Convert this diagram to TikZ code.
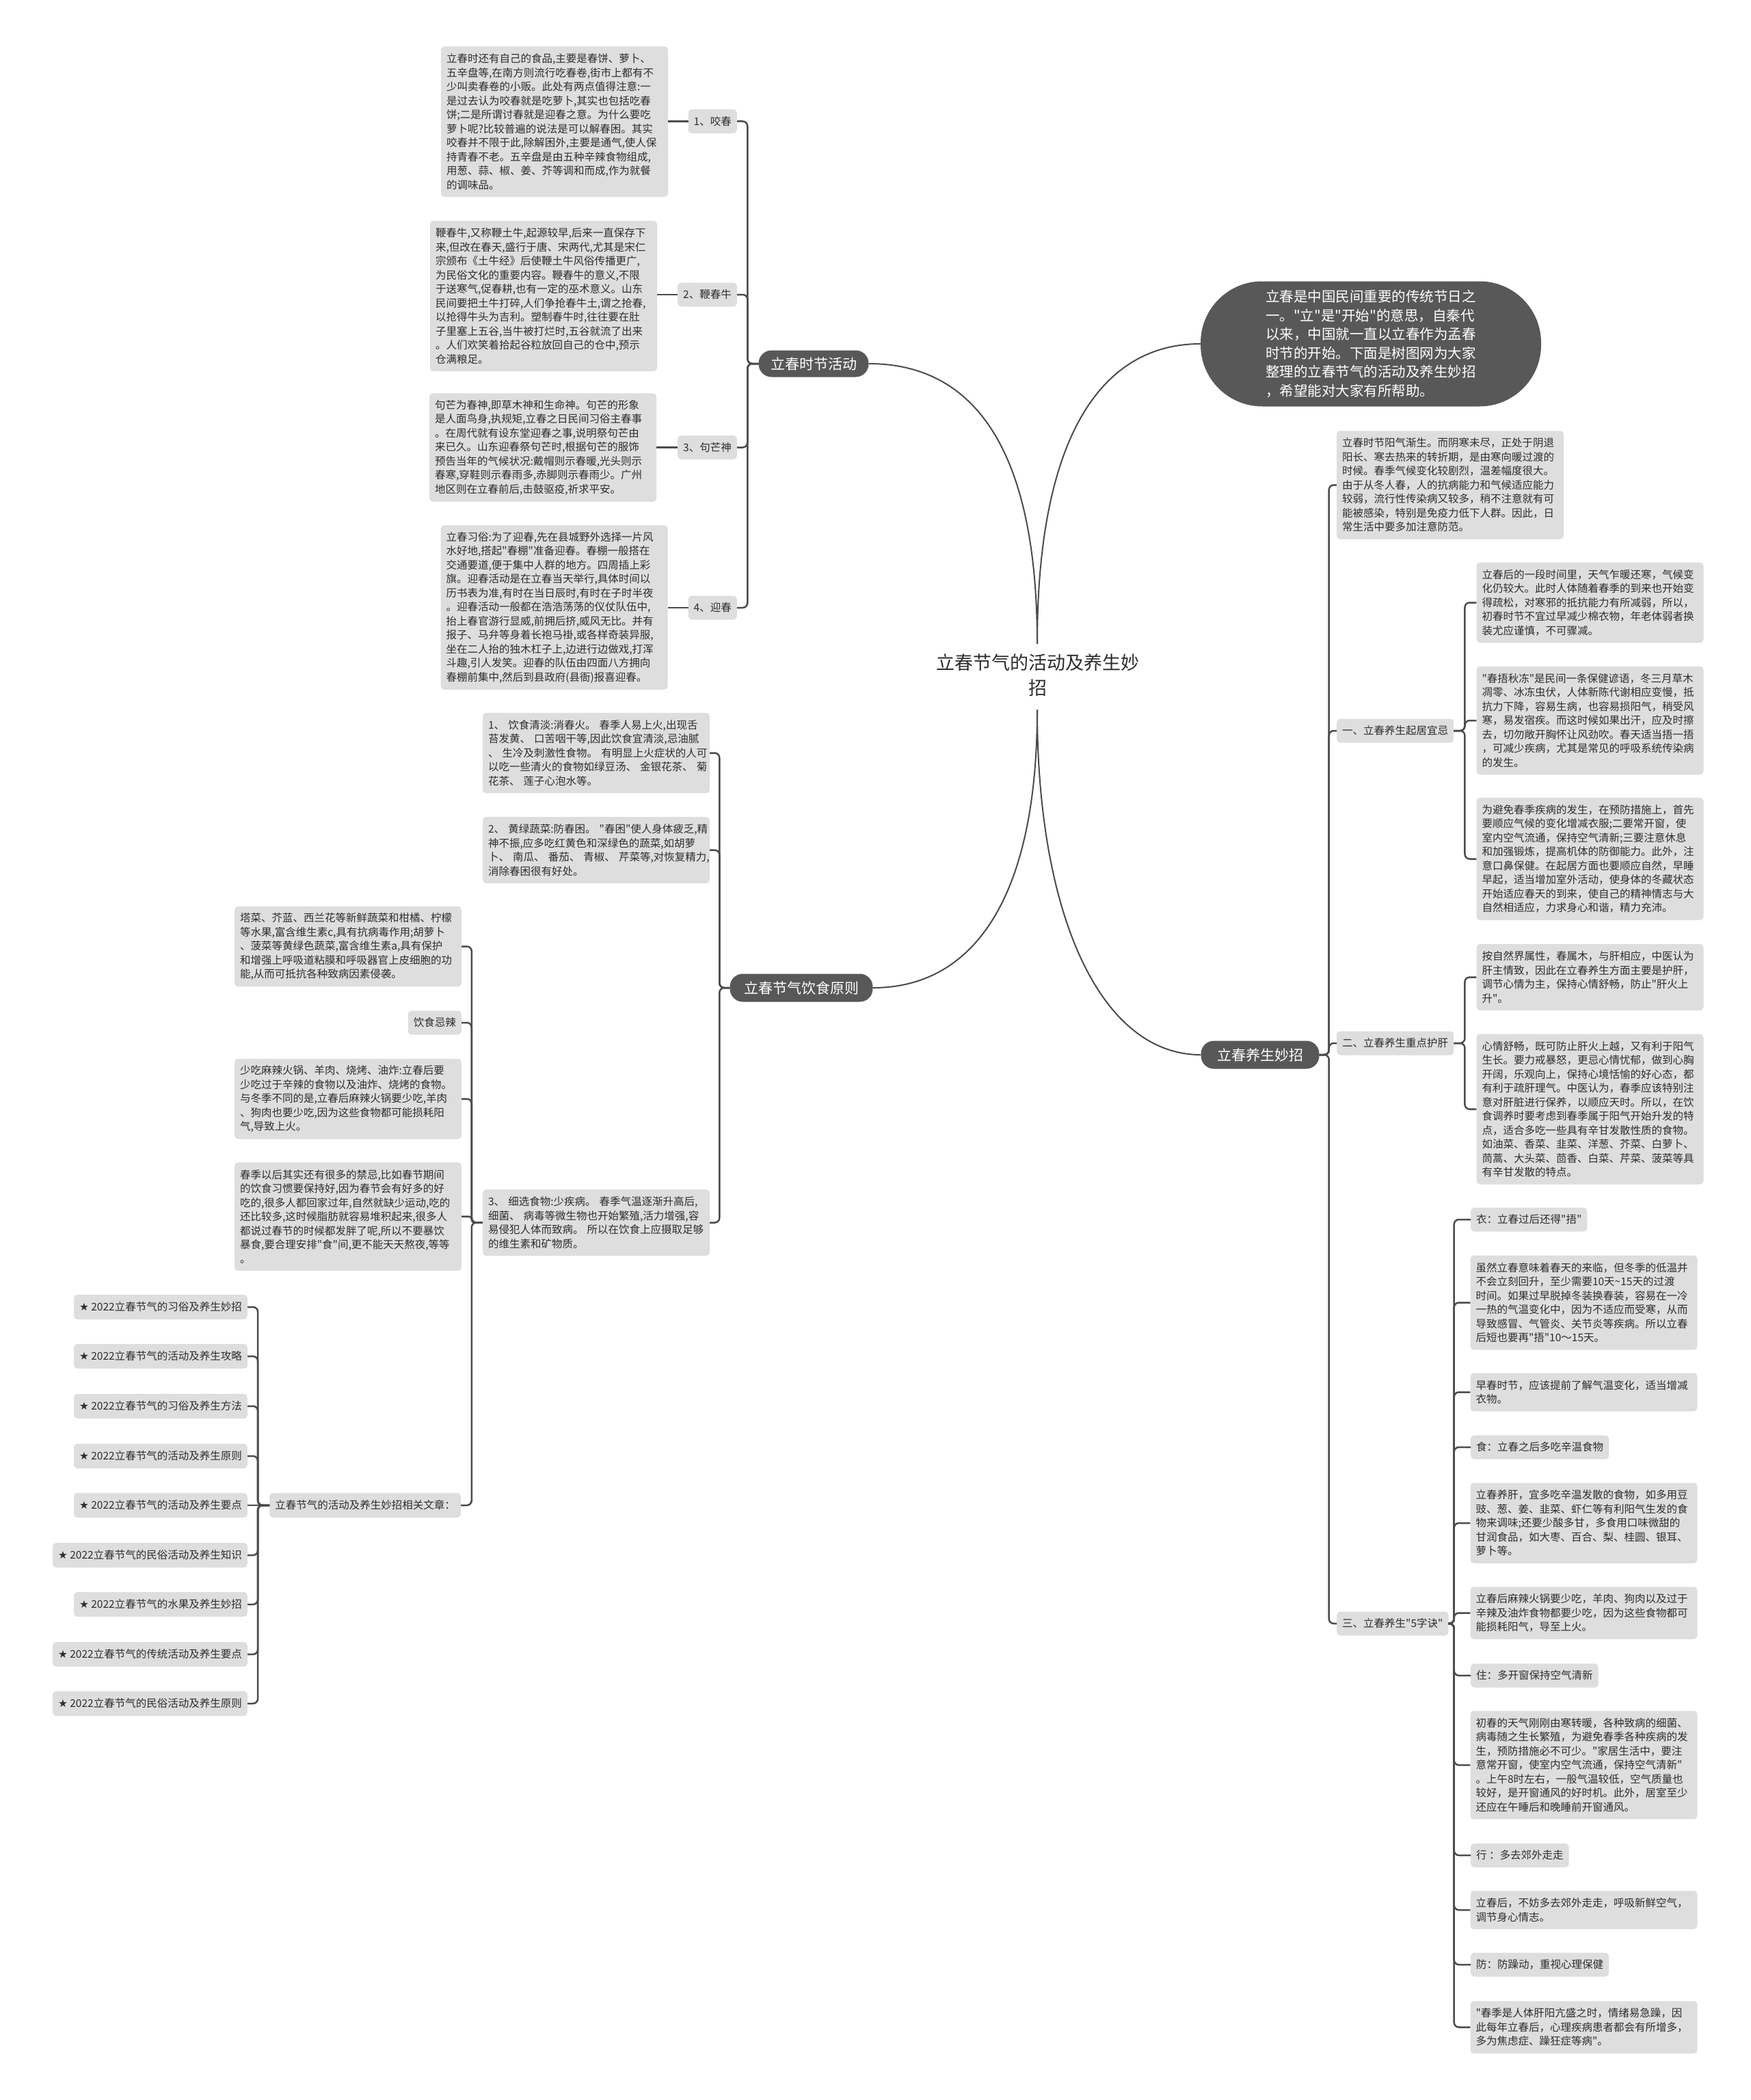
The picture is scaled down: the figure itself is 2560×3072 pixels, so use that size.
\documentclass[tikz,border=0pt]{standalone}
\usepackage{fontspec}
\setmainfont{Noto Sans CJK SC}
\newfontfamily\cjk{Noto Sans CJK SC}
\newfontfamily\symfont{DejaVu Sans}
\definecolor{boxgray}{RGB}{222,222,222}
\definecolor{darkc}{RGB}{88,88,88}
\definecolor{txt}{RGB}{45,45,45}
\definecolor{linec}{RGB}{75,75,75}
\newcommand\fs{\cjk\fontsize{15.5}{20.5}\selectfont}
\tikzset{
  tbox/.style={fill=boxgray, rounded corners=5pt, inner xsep=8pt, inner ysep=0pt, text=txt, align=left, text width=316pt, font=\fs},
  lbl/.style={fill=boxgray, rounded corners=5pt, inner xsep=8pt, inner ysep=0pt, minimum height=35pt, text=txt, font=\fs},
  dark/.style={fill=darkc, text=white, inner sep=0pt, rounded corners=19pt, font=\cjk\fontsize{21}{25}\selectfont},
  intro/.style={fill=darkc, text=white, inner sep=0pt, rounded corners=90pt, minimum width=498pt, minimum height=183pt, align=left, font=\cjk\fontsize{20.5}{27.5}\selectfont},
  ttl/.style={text=txt, align=center, inner sep=0pt, font=\cjk\fontsize{27}{37}\selectfont},
  conn/.style={draw=linec, line width=2.5pt, rounded corners=7pt},
  curv/.style={draw=linec, line width=2pt},
}
\begin{document}
\begin{tikzpicture}[x=1pt,y=-1pt]
\fill[white] (0,0) rectangle (2560,3072);
\useasboundingbox (0,0) rectangle (2560,3072);

% centre
\node[ttl] (T) at (1518,988) {立春节气的活动及养生妙\\招};
\coordinate (ctop) at (1517,942);
\coordinate (cbot) at (1517,1038);

% main branches
\node[dark, minimum width=161pt, minimum height=39pt] (P1) at (1190,532) {立春时节活动};
\node[dark, minimum width=209pt, minimum height=41pt] (P2) at (1172,1445) {立春节气饮食原则};
\node[dark, minimum width=173pt, minimum height=41pt] (Q) at (1843,1543) {立春养生妙招};
\node[intro] (I) at (2005,503) {立春是中国民间重要的传统节日之\\一。"立"是"开始"的意思，自秦代\\以来，中国就一直以立春作为孟春\\时节的开始。下面是树图网为大家\\整理的立春节气的活动及养生妙招\\，希望能对大家有所帮助。};

\draw[curv] (ctop) .. controls (1517,650) and (1420,532) .. (P1.east);
\draw[curv] (ctop) .. controls (1517,640) and (1610,503) .. (I.west);
\draw[curv] (cbot) .. controls (1517,1320) and (1420,1445) .. (P2.east);
\draw[curv] (cbot) .. controls (1517,1340) and (1610,1543) .. (Q.west);

% 立春时节活动
\node[lbl, anchor=east] (a1) at (1078,177.5) {1、咬春};
\node[lbl, anchor=east] (a2) at (1078,431) {2、鞭春牛};
\node[lbl, anchor=east] (a3) at (1078,654.5) {3、句芒神};
\node[lbl, anchor=east] (a4) at (1078,889) {4、迎春};

\node[tbox, minimum height=220pt] (t1) at (811,178) {立春时还有自己的食品,主要是春饼、萝卜、\\五辛盘等,在南方则流行吃春卷,街市上都有不\\少叫卖春卷的小贩。此处有两点值得注意:一\\是过去认为咬春就是吃萝卜,其实也包括吃春\\饼;二是所谓讨春就是迎春之意。为什么要吃\\萝卜呢?比较普遍的说法是可以解春困。其实\\咬春并不限于此,除解困外,主要是通气,使人保\\持青春不老。五辛盘是由五种辛辣食物组成,\\用葱、蒜、椒、姜、芥等调和而成,作为就餐\\的调味品。};
\node[tbox, minimum height=220pt] (t2) at (795,433) {鞭春牛,又称鞭土牛,起源较早,后来一直保存下\\来,但改在春天,盛行于唐、宋两代,尤其是宋仁\\宗颁布《土牛经》后使鞭土牛风俗传播更广,\\为民俗文化的重要内容。鞭春牛的意义,不限\\于送寒气,促春耕,也有一定的巫术意义。山东\\民间要把土牛打碎,人们争抢春牛土,谓之抢春,\\以抢得牛头为吉利。塑制春牛时,往往要在肚\\子里塞上五谷,当牛被打烂时,五谷就流了出来\\。人们欢笑着拾起谷粒放回自己的仓中,预示\\仓满粮足。};
\node[tbox, minimum height=158.5pt] (t3) at (794,654.5) {句芒为春神,即草木神和生命神。句芒的形象\\是人面鸟身,执规矩,立春之日民间习俗主春事\\。在周代就有设东堂迎春之事,说明祭句芒由\\来已久。山东迎春祭句芒时,根据句芒的服饰\\预告当年的气候状况:戴帽则示春暖,光头则示\\春寒,穿鞋则示春雨多,赤脚则示春雨少。广州\\地区则在立春前后,击鼓驱疫,祈求平安。};
\node[tbox, minimum height=240.5pt] (t4) at (810.5,888.5) {立春习俗:为了迎春,先在县城野外选择一片风\\水好地,搭起"春棚"准备迎春。春棚一般搭在\\交通要道,便于集中人群的地方。四周插上彩\\旗。迎春活动是在立春当天举行,具体时间以\\历书表为准,有时在当日辰时,有时在子时半夜\\。迎春活动一般都在浩浩荡荡的仪仗队伍中,\\抬上春官游行显威,前拥后挤,威风无比。并有\\报子、马弁等身着长袍马褂,或各样奇装异服,\\坐在二人抬的独木杠子上,边进行边做戏,打浑\\斗趣,引人发笑。迎春的队伍由四面八方拥向\\春棚前集中,然后到县政府(县衙)报喜迎春。};

\foreach \c in {a1,a2,a3,a4} \draw[conn] (P1.west) -- ++(-16,0) |- (\c.east);
\draw[conn] (a1.west) -- (t1.east|-a1.west);
\draw[conn] (a2.west) -- (t2.east|-a2.west);
\draw[conn] (a3.west) -- (t3.east|-a3.west);
\draw[conn] (a4.west) -- (t4.east|-a4.west);

% 饮食原则
\node[tbox, minimum height=117.5pt] (f1) at (872,1101.5) {1、~饮食清淡:消春火。~春季人易上火,出现舌\\苔发黄、~口苦咽干等,因此饮食宜清淡,忌油腻\\、~生冷及刺激性食物。~有明显上火症状的人可\\以吃一些清火的食物如绿豆汤、~金银花茶、~菊\\花茶、~莲子心泡水等。};
\node[tbox, minimum height=97pt] (f2) at (872,1243.5) {2、~黄绿蔬菜:防春困。~"春困"使人身体疲乏,精\\神不振,应多吃红黄色和深绿色的蔬菜,如胡萝\\卜、~南瓜、~番茄、~青椒、~芹菜等,对恢复精力,\\消除春困很有好处。};
\node[tbox, minimum height=97pt] (f3) at (872,1788.5) {3、~细选食物:少疾病。~春季气温逐渐升高后,\\细菌、~病毒等微生物也开始繁殖,活力增强,容\\易侵犯人体而致病。~所以在饮食上应摄取足够\\的维生素和矿物质。};
\foreach \c in {f1,f2,f3} \draw[conn] (P2.west) -- ++(-15,0) |- (\c.east);

\node[tbox, minimum height=117.5pt] (g1) at (509,1384.5) {塔菜、芥蓝、西兰花等新鲜蔬菜和柑橘、柠檬\\等水果,富含维生素c,具有抗病毒作用;胡萝卜\\、菠菜等黄绿色蔬菜,富含维生素a,具有保护\\和增强上呼吸道粘膜和呼吸器官上皮细胞的功\\能,从而可抵抗各种致病因素侵袭。};
\node[lbl, anchor=east] (g2) at (675,1496) {饮食忌辣};
\node[tbox, minimum height=117.5pt] (g3) at (509,1607.5) {少吃麻辣火锅、羊肉、烧烤、油炸:立春后要\\少吃过于辛辣的食物以及油炸、烧烤的食物。\\与冬季不同的是,立春后麻辣火锅要少吃,羊肉\\、狗肉也要少吃,因为这些食物都可能损耗阳\\气,导致上火。};
\node[tbox, minimum height=158.5pt] (g4) at (509,1779.5) {春季以后其实还有很多的禁忌,比如春节期间\\的饮食习惯要保持好,因为春节会有好多的好\\吃的,很多人都回家过年,自然就缺少运动,吃的\\还比较多,这时候脂肪就容易堆积起来,很多人\\都说过春节的时候都发胖了呢,所以不要暴饮\\暴食,要合理安排"食"间,更不能天天熬夜,等等\\。};
\node[lbl, anchor=east, minimum height=36pt] (g5) at (674,2202) {立春节气的活动及养生妙招相关文章：};
\foreach \c in {g1,g2,g3,g5} \draw[conn] (f3.west) -- ++(-16,0) |- (\c.east);
\draw[conn, rounded corners=4pt] (f3.west) -- ++(-16,0) |- (g4.east);

\node[lbl, anchor=east, minimum height=36pt] (s1) at (362,1912) {{\symfont ★} 2022立春节气的习俗及养生妙招};
\node[lbl, anchor=east, minimum height=36pt] (s2) at (362,1984) {{\symfont ★} 2022立春节气的活动及养生攻略};
\node[lbl, anchor=east, minimum height=36pt] (s3) at (362,2057) {{\symfont ★} 2022立春节气的习俗及养生方法};
\node[lbl, anchor=east, minimum height=36pt] (s4) at (362,2130) {{\symfont ★} 2022立春节气的活动及养生原则};
\node[lbl, anchor=east, minimum height=36pt] (s5) at (362,2202) {{\symfont ★} 2022立春节气的活动及养生要点};
\node[lbl, anchor=east, minimum height=36pt] (s6) at (362,2275) {{\symfont ★} 2022立春节气的民俗活动及养生知识};
\node[lbl, anchor=east, minimum height=36pt] (s7) at (362,2347) {{\symfont ★} 2022立春节气的水果及养生妙招};
\node[lbl, anchor=east, minimum height=36pt] (s8) at (362,2420) {{\symfont ★} 2022立春节气的传统活动及养生要点};
\node[lbl, anchor=east, minimum height=36pt] (s9) at (362,2492) {{\symfont ★} 2022立春节气的民俗活动及养生原则};
\foreach \c in {s1,s2,s3,s4,s6,s7,s8,s9} \draw[conn] (g5.west) -- ++(-17,0) |- (\c.east);
\draw[conn] (g5.west) -- (s5.east);

% 立春养生妙招
\node[tbox, minimum height=158.5pt] (r0) at (2121,709.5) {立春时节阳气渐生。而阴寒未尽，正处于阴退\\阳长、寒去热来的转折期，是由寒向暖过渡的\\时候。春季气候变化较剧烈，温差幅度很大。\\由于从冬人春，人的抗病能力和气候适应能力\\较弱，流行性传染病又较多，稍不注意就有可\\能被感染，特别是免疫力低下人群。因此，日\\常生活中要多加注意防范。};
\node[lbl, anchor=west] (r1) at (1955,1069) {一、立春养生起居宜忌};
\node[lbl, anchor=west] (r2) at (1955,1526) {二、立春养生重点护肝};
\node[lbl, anchor=west] (r3) at (1955,2375) {三、立春养生"5字诀"};
\foreach \c in {r0,r1,r2,r3} \draw[conn] (Q.east) -- ++(14,0) |- (\c.west);

\node[tbox, minimum height=117.5pt] (r1a) at (2325.5,881.5) {立春后的一段时间里，天气乍暖还寒，气候变\\化仍较大。此时人体随着春季的到来也开始变\\得疏松，对寒邪的抵抗能力有所减弱，所以，\\初春时节不宜过早减少棉衣物，年老体弱者换\\装尤应谨慎，不可骤减。};
\node[tbox, minimum height=158.5pt] (r1b) at (2325.5,1054) {"春捂秋冻"是民间一条保健谚语，冬三月草木\\凋零、冰冻虫伏，人体新陈代谢相应变慢，抵\\抗力下降，容易生病，也容易损阳气，稍受风\\寒，易发宿疾。而这时候如果出汗，应及时擦\\去，切勿敞开胸怀让风劲吹。春天适当捂一捂\\，可减少疾病，尤其是常见的呼吸系统传染病\\的发生。};
\node[tbox, minimum height=179pt] (r1c) at (2325.5,1256.5) {为避免春季疾病的发生，在预防措施上，首先\\要顺应气候的变化增减衣服;二要常开窗，使\\室内空气流通，保持空气清新;三要注意休息\\和加强锻炼，提高机体的防御能力。此外，注\\意口鼻保健。在起居方面也要顺应自然，早睡\\早起，适当增加室外活动，使身体的冬藏状态\\开始适应春天的到来，使自己的精神情志与大\\自然相适应，力求身心和谐，精力充沛。};
\foreach \c in {r1a,r1b,r1c} \draw[conn] (r1.east) -- ++(16,0) |- (\c.west);

\node[tbox, minimum height=97pt] (r2a) at (2325.5,1429.5) {按自然界属性，春属木，与肝相应，中医认为\\肝主情致，因此在立春养生方面主要是护肝，\\调节心情为主，保持心情舒畅，防止"肝火上\\升"。};
\node[tbox, minimum height=220pt] (r2b) at (2325.5,1622.5) {心情舒畅，既可防止肝火上越，又有利于阳气\\生长。要力戒暴怒，更忌心情忧郁，做到心胸\\开阔，乐观向上，保持心境恬愉的好心态，都\\有利于疏肝理气。中医认为，春季应该特别注\\意对肝脏进行保养，以顺应天时。所以，在饮\\食调养时要考虑到春季属于阳气开始升发的特\\点，适合多吃一些具有辛甘发散性质的食物。\\如油菜、香菜、韭菜、洋葱、芥菜、白萝卜、\\茼蒿、大头菜、茴香、白菜、芹菜、菠菜等具\\有辛甘发散的特点。};
\foreach \c in {r2a,r2b} \draw[conn] (r2.east) -- ++(16,0) |- (\c.west);

\node[lbl, anchor=west] (k1) at (2151,1784) {衣：立春过后还得"捂"};
\node[tbox, minimum height=138pt] (k2) at (2316.5,1905.5) {虽然立春意味着春天的来临，但冬季的低温并\\不会立刻回升，至少需要10天\textasciitilde 15天的过渡\\时间。如果过早脱掉冬装换春装，容易在一冷\\一热的气温变化中，因为不适应而受寒，从而\\导致感冒、气管炎、关节炎等疾病。所以立春\\后短也要再"捂"10～15天。};
\node[tbox, minimum height=56pt] (k3) at (2316.5,2036.5) {早春时节，应该提前了解气温变化，适当增减\\衣物。};
\node[lbl, anchor=west] (k4) at (2151,2117) {食：立春之后多吃辛温食物};
\node[tbox, minimum height=117.5pt] (k5) at (2316.5,2228) {立春养肝，宜多吃辛温发散的食物，如多用豆\\豉、葱、姜、韭菜、虾仁等有利阳气生发的食\\物来调味;还要少酸多甘，多食用口味微甜的\\甘润食品，如大枣、百合、梨、桂圆、银耳、\\萝卜等。};
\node[tbox, minimum height=76.5pt] (k6) at (2316.5,2359.5) {立春后麻辣火锅要少吃，羊肉、狗肉以及过于\\辛辣及油炸食物都要少吃，因为这些食物都可\\能损耗阳气，导至上火。};
\node[lbl, anchor=west] (k7) at (2151,2451) {住：多开窗保持空气清新};
\node[tbox, minimum height=158.5pt] (k8) at (2316.5,2582) {初春的天气刚刚由寒转暖，各种致病的细菌、\\病毒随之生长繁殖，为避免春季各种疾病的发\\生，预防措施必不可少。"家居生活中，要注\\意常开窗，使室内空气流通，保持空气清新"\\。上午8时左右，一般气温较低，空气质量也\\较好，是开窗通风的好时机。此外，居室至少\\还应在午睡后和晚睡前开窗通风。};
\node[lbl, anchor=west] (k9) at (2151,2714) {行 ：多去郊外走走};
\node[tbox, minimum height=56pt] (k10) at (2316.5,2794) {立春后，不妨多去郊外走走，呼吸新鲜空气，\\调节身心情志。};
\node[lbl, anchor=west] (k11) at (2151,2874) {防：防躁动，重视心理保健};
\node[tbox, minimum height=76.5pt] (k12) at (2316.5,2965.5) {"春季是人体肝阳亢盛之时，情绪易急躁，因\\此每年立春后，心理疾病患者都会有所增多，\\多为焦虑症、躁狂症等病"。};
\foreach \c in {k1,k2,k3,k4,k5,k6,k7,k8,k9,k10,k11,k12} \draw[conn] (r3.east) -- ++(8,0) |- (\c.west);
\end{tikzpicture}
\end{document}
